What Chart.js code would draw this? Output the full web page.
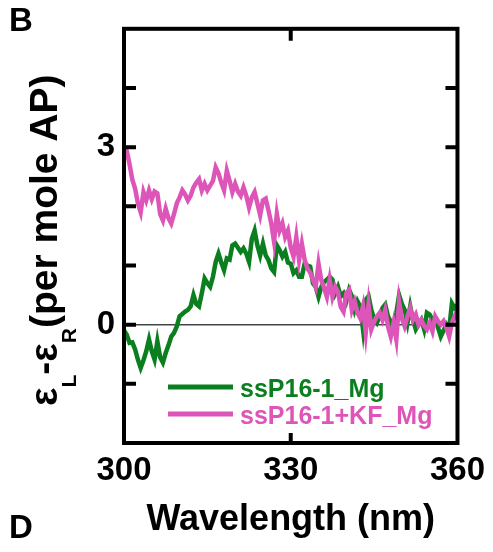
<!DOCTYPE html>
<html>
<head>
<meta charset="utf-8">
<title>CD spectra</title>
<script src="https://cdn.jsdelivr.net/npm/chart.js@4.4.1/dist/chart.umd.min.js"></script>
<style>
  html, body { margin: 0; padding: 0; background: #fff; }
  #cd { display: block; }
</style>
</head>
<body>
<canvas id="cd" width="493" height="552"></canvas>
<script>
// Wavelength grid (nm), 0.5 nm steps
const wavelengths = [
  300.0, 300.5, 301.0, 301.5, 302.0, 302.5, 303.0, 303.5, 304.0, 304.5,
  305.0, 305.5, 306.0, 306.5, 307.0, 307.5, 308.0, 308.5, 309.0, 309.5,
  310.0, 310.5, 311.0, 311.5, 312.0, 312.5, 313.0, 313.5, 314.0, 314.5,
  315.0, 315.5, 316.0, 316.5, 317.0, 317.5, 318.0, 318.5, 319.0, 319.5,
  320.0, 320.5, 321.0, 321.5, 322.0, 322.5, 323.0, 323.5, 324.0, 324.5,
  325.0, 325.5, 326.0, 326.5, 327.0, 327.5, 328.0, 328.5, 329.0, 329.5,
  330.0, 330.5, 331.0, 331.5, 332.0, 332.5, 333.0, 333.5, 334.0, 334.5,
  335.0, 335.5, 336.0, 336.5, 337.0, 337.5, 338.0, 338.5, 339.0, 339.5,
  340.0, 340.5, 341.0, 341.5, 342.0, 342.5, 343.0, 343.5, 344.0, 344.5,
  345.0, 345.5, 346.0, 346.5, 347.0, 347.5, 348.0, 348.5, 349.0, 349.5,
  350.0, 350.5, 351.0, 351.5, 352.0, 352.5, 353.0, 353.5, 354.0, 354.5,
  355.0, 355.5, 356.0, 356.5, 357.0, 357.5, 358.0, 358.5, 359.0, 359.5,
  360.0
];

// ssP16-1 in Mg buffer
const ssP16Mg = [
  -0.10, -0.17, -0.31, -0.30, -0.42, -0.59, -0.73, -0.60, -0.45, -0.25,
  -0.45, -0.59, -0.28, -0.55, -0.64, -0.48, -0.35, -0.20, -0.14, -0.03,
   0.14,  0.18,  0.22,  0.25,  0.31,  0.50,  0.35,  0.31,  0.53,  0.78,
   0.70,  0.64,  0.81,  1.06,  1.20,  1.05,  0.92,  1.12,  1.10,  1.34,
   1.37,  1.30,  1.23,  1.29,  1.20,  1.06,  1.45,  1.59,  1.34,  1.17,
   1.37,  1.17,  1.09,  0.95,  0.89,  1.34,  1.26,  1.15,  1.23,  1.05,
   1.03,  0.87,  0.92,  0.81,  0.81,  1.03,  1.00,  0.98,  0.70,  0.64,
   0.47,  0.64,  0.72,  0.76,  0.81,  0.76,  0.53,  0.64,  0.48,  0.53,
   0.40,  0.59,  0.48,  0.25,  0.40,  0.31, -0.08,  0.42,  0.48,  0.25,
   0.10,  0.03,  0.14,  0.28,  0.34,  0.14,  0.05, -0.05,  0.20,  0.50,
   0.35,  0.25,  0.03,  0.31,  0.08, -0.08,  0.00,  0.08, -0.08,  0.20,
   0.17,  0.08,  0.10, -0.05, -0.20, -0.10,  0.00, -0.08,  0.36,  0.28,
   0.33
];

// ssP16-1 + Klenow fragment in Mg buffer
const ssP16KFMg = [
   3.00,  2.94,  2.71,  2.45,  2.30,  2.05,  1.90,  2.24,  2.10,  2.27,
   2.12,  2.25,  2.22,  1.87,  1.76,  1.96,  1.80,  1.71,  1.87,  2.05,
   2.15,  2.27,  2.20,  2.10,  2.18,  2.32,  2.40,  2.46,  2.27,  2.38,
   2.27,  2.35,  2.43,  2.66,  2.56,  2.40,  2.27,  2.60,  2.43,  2.24,
   2.38,  2.25,  2.18,  2.32,  2.18,  1.98,  2.15,  2.24,  2.05,  1.85,
   2.10,  2.13,  1.93,  1.71,  1.40,  1.87,  1.59,  1.71,  1.48,  1.59,
   1.30,  1.15,  1.48,  1.09,  1.37,  1.10,  0.95,  0.88,  0.76,  0.64,
   1.03,  0.75,  0.62,  0.47,  0.76,  0.47,  0.64,  0.55,  0.30,  0.22,
   0.53,  0.59,  0.25,  0.39,  0.20,  0.11,  0.31, -0.14,  0.34, -0.08,
   0.05,  0.14,  0.20,  0.08,  0.25, -0.03, -0.20,  0.03, -0.25,  0.39,
   0.10, -0.03,  0.14,  0.28,  0.08,  0.17,  0.00,  0.08, -0.02, -0.08,
   0.03, -0.11,  0.14,  0.06,  0.00,  0.06, -0.05, -0.20,  0.03,  0.14,
   0.25
];

const seriesNames = ['ssP16-1_Mg', 'ssP16-1+KF_Mg'];
const seriesColors = ['#0b7f1f', '#dd55b8'];
const xTickLabels = [300, 330, 360];
const yTickLabels = [0, 3];

const FONT = '"Liberation Sans", Arial, sans-serif';

function toPoints(values) {
    return wavelengths.map((w, i) => ({ x: w, y: values[i] }));
}

// Frame, inward ticks, zero line, legend, axis title and panel letters
const decorations = {
    id: 'decorations',
    beforeDatasetsDraw(chart) {
        const { ctx, chartArea: a, scales: { y } } = chart;
        const y0 = y.getPixelForValue(0);
        ctx.save();
        ctx.strokeStyle = '#444';
        ctx.lineWidth = 1.5;
        ctx.beginPath();
        ctx.moveTo(a.left, y0);
        ctx.lineTo(a.right, y0);
        ctx.stroke();
        ctx.restore();
    },
    afterDraw(chart) {
        const { ctx, chartArea: a, scales: { x, y } } = chart;
        ctx.save();
        ctx.strokeStyle = '#000';
        ctx.lineWidth = 4;
        ctx.lineCap = 'butt';

        // inward ticks on all four sides
        const tickLen = 12;
        ctx.beginPath();
        y.ticks.forEach(t => {
            if (t.value <= y.min || t.value >= y.max) return;
            const py = y.getPixelForValue(t.value);
            ctx.moveTo(a.left, py); ctx.lineTo(a.left + tickLen, py);
            ctx.moveTo(a.right, py); ctx.lineTo(a.right - tickLen, py);
        });
        x.ticks.forEach(t => {
            if (t.value <= x.min || t.value >= x.max) return;
            const px = x.getPixelForValue(t.value);
            ctx.moveTo(px, a.top); ctx.lineTo(px, a.top + tickLen);
            ctx.moveTo(px, a.bottom); ctx.lineTo(px, a.bottom - 10);
        });
        ctx.stroke();
        ctx.strokeRect(a.left, a.top, a.right - a.left, a.bottom - a.top);

        // legend
        ctx.font = 'bold 25px ' + FONT;
        ctx.textBaseline = 'alphabetic';
        ctx.textAlign = 'left';
        chart.data.datasets.forEach((ds, i) => {
            const ly = 387 + i * 27;
            ctx.strokeStyle = ds.borderColor;
            ctx.lineWidth = 5;
            ctx.beginPath();
            ctx.moveTo(168, ly);
            ctx.lineTo(233, ly);
            ctx.stroke();
            ctx.fillStyle = ds.borderColor;
            ctx.fillText(ds.label, 240, ly + 10);
        });

        // y axis title with subscripts, written bottom to top
        ctx.fillStyle = '#000';
        ctx.translate(57, 406);
        ctx.rotate(-Math.PI / 2);
        const parts = [
            ['\u03b5', 39, 0], ['L', 21, 19], ['-', 39, 0],
            ['\u03b5', 39, 0], ['R', 21, 19], ['(per mole AP)', 39, 0]
        ];
        let tx = 0;
        parts.forEach(([s, size, dy]) => {
            ctx.font = 'bold ' + size + 'px ' + FONT;
            ctx.fillText(s, tx, dy);
            tx += ctx.measureText(s).width;
        });
        ctx.restore();

        // panel letters
        ctx.save();
        ctx.fillStyle = '#000';
        ctx.font = 'bold 33px ' + FONT;
        ctx.textBaseline = 'alphabetic';
        ctx.fillText('B', 9, 31);
        ctx.fillText('D', 9, 538);
        ctx.restore();
    }
};

new Chart(document.getElementById('cd'), {
    type: 'line',
    data: {
        datasets: [
            {
                label: seriesNames[0],
                data: toPoints(ssP16Mg),
                borderColor: seriesColors[0],
                borderWidth: 4.5,
                pointRadius: 0,
                tension: 0,
                order: 1
            },
            {
                label: seriesNames[1],
                data: toPoints(ssP16KFMg),
                borderColor: seriesColors[1],
                borderWidth: 4.5,
                pointRadius: 0,
                tension: 0,
                order: 0
            }
        ]
    },
    options: {
        responsive: false,
        animation: false,
        devicePixelRatio: 1,
        layout: { padding: { top: 27, right: 34, bottom: 0, left: 0 } },
        plugins: {
            legend: { display: false },
            tooltip: { enabled: false }
        },
        scales: {
            x: {
                type: 'linear',
                min: 300,
                max: 360,
                afterFit: s => { s.height = 109; },
                afterBuildTicks: s => { s.ticks = xTickLabels.map(v => ({ value: v })); },
                grid: { display: false, drawTicks: false },
                border: { display: false },
                ticks: {
                    color: '#000',
                    padding: 8,
                    maxRotation: 0,
                    font: { family: FONT, size: 33, weight: 'bold' }
                },
                title: {
                    display: true,
                    text: 'Wavelength (nm)',
                    color: '#000',
                    padding: { top: 0, bottom: 10 },
                    font: { family: FONT, size: 36, weight: 'bold' }
                }
            },
            y: {
                min: -2,
                max: 5,
                afterFit: s => { s.width = 124; },
                grid: { display: false, drawTicks: false },
                border: { display: false },
                ticks: {
                    stepSize: 1,
                    color: '#000',
                    padding: 9,
                    font: { family: FONT, size: 33, weight: 'bold' },
                    callback: v => (yTickLabels.includes(v) ? String(v) : '')
                }
            }
        }
    },
    plugins: [decorations]
});
</script>
</body>
</html>
